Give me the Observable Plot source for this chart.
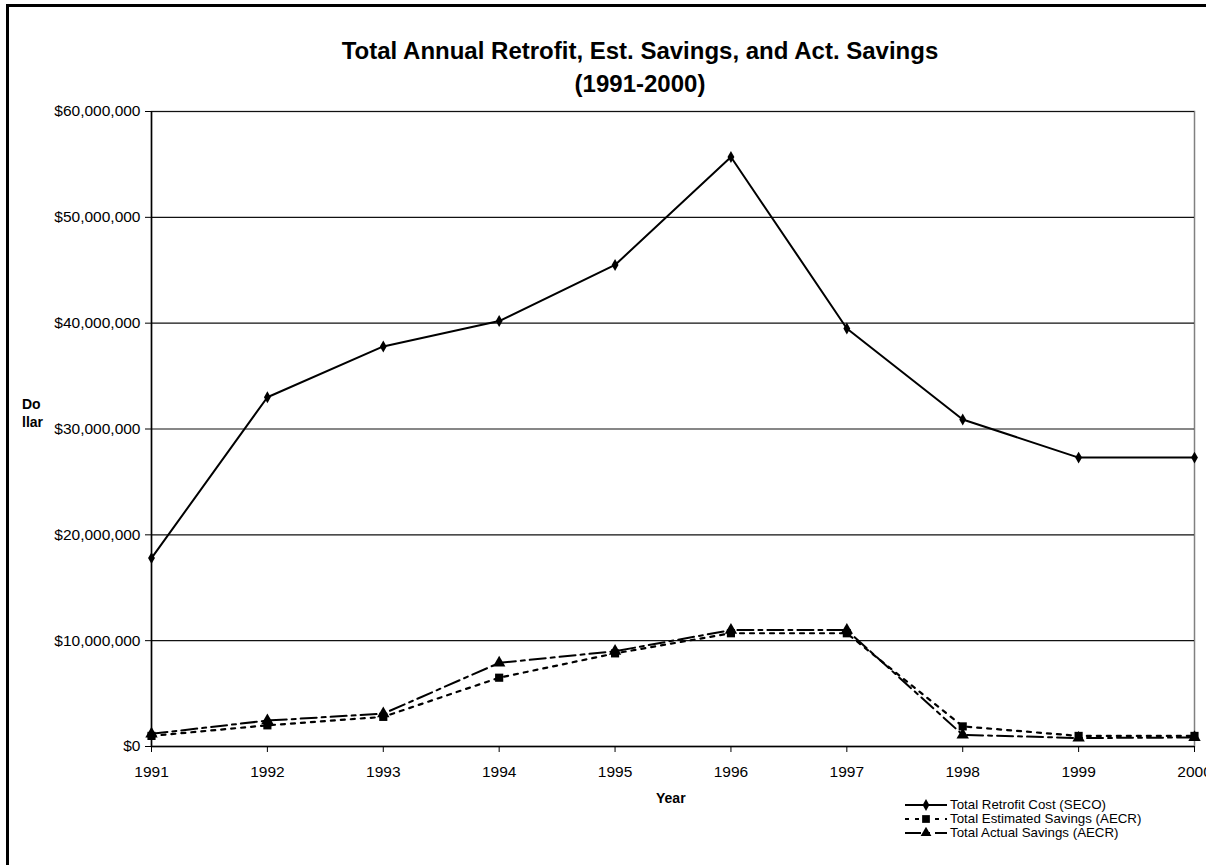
<!DOCTYPE html>
<html>
<head>
<meta charset="utf-8">
<script src="https://cdn.jsdelivr.net/npm/d3@7"></script>
<script src="https://cdn.jsdelivr.net/npm/@observablehq/plot@0.6"></script>
<style>
  html, body { margin: 0; padding: 0; background: #fff; }
  #page { position: relative; width: 1206px; height: 865px; overflow: hidden; font-family: "Liberation Sans", Arial, sans-serif; color: #000; }
  #frame { position: absolute; left: 6px; top: 4px; width: 1210px; height: 870px; border-left: 3px solid #000; border-top: 3px solid #000; box-sizing: border-box; }
  #chart { position: absolute; left: 0; top: 0; }
  .title { position: absolute; left: 0; width: 1280px; text-align: center; font-weight: bold; font-size: 24px; white-space: nowrap; }
  .lbl { position: absolute; font-weight: bold; font-size: 14px; white-space: nowrap; }
  #legend { position: absolute; left: 904px; top: 798px; font-size: 13.3px; line-height: 14px; }
  #legend .row { display: flex; align-items: center; height: 14px; white-space: nowrap; }
  #legend svg { margin-right: 2px; }
</style>
</head>
<body>
<div id="page">
  <div id="chart"></div>
  <div id="frame"></div>
  <div class="title" style="top:37px;">Total Annual Retrofit, Est. Savings, and Act. Savings</div>
  <div class="title" style="top:70px;">(1991-2000)</div>
  <div class="lbl" style="left:22px; top:396px;">Do</div>
  <div class="lbl" style="left:22px; top:414px;">llar</div>
  <div class="lbl" style="left:656px; top:790px;">Year</div>
  <div id="legend"></div>
</div>
<script>
// ---- data ----
const years = [1991, 1992, 1993, 1994, 1995, 1996, 1997, 1998, 1999, 2000];
const retrofitCost = [17800000, 33000000, 37800000, 40200000, 45500000, 55700000, 39500000, 30900000, 27300000, 27300000];
const estimatedSavings = [1000000, 2000000, 2800000, 6500000, 8800000, 10700000, 10700000, 1900000, 1000000, 1000000];
const actualSavings = [1200000, 2450000, 3100000, 7900000, 9000000, 11000000, 11000000, 1100000, 800000, 850000];
const seriesNames = ["Total Retrofit Cost (SECO)", "Total Estimated Savings (AECR)", "Total Actual Savings (AECR)"];
const yTicks = [0, 10000000, 20000000, 30000000, 40000000, 50000000, 60000000];

// ---- tables ----
const rowsCost = years.map((y, i) => ({year: y, value: retrofitCost[i]}));
const rowsEst = years.map((y, i) => ({year: y, value: estimatedSavings[i]}));
const rowsAct = years.map((y, i) => ({year: y, value: actualSavings[i]}));

const styles = [
  {dash: null, symbol: "diamond", r: 3.6, width: 2},
  {dash: "4,6", symbol: "square", r: 4.6, width: 2.2},
  {dash: "16,5,4,5", symbol: "triangle", r: 4.6, width: 2}
];

const fmt = d => "$" + d3.format(",")(d);

const chart = Plot.plot({
  width: 1206,
  height: 865,
  marginLeft: 151,
  marginRight: 12,
  marginTop: 111,
  marginBottom: 119,
  style: {fontFamily: "Liberation Sans, Arial, sans-serif", fontSize: "15.5px", color: "#000", background: "transparent"},
  x: {domain: [1991, 2000], ticks: years, tickFormat: d => String(d), label: null},
  y: {domain: [0, 60000000], ticks: yTicks, tickFormat: fmt, label: null},
  marks: [
    Plot.frame({stroke: "#808080", strokeWidth: 1.5}),
    Plot.gridY(yTicks, {stroke: "#111", strokeOpacity: 1, strokeWidth: 1.2}),
    Plot.axisY(yTicks, {tickSize: 6, tickPadding: 5, tickFormat: fmt, fontSize: 15.5, stroke: "#000"}),
    Plot.axisX(years, {tickSize: 6, tickPadding: 13, tickFormat: d => String(d), fontSize: 15.5, stroke: "#000"}),
    Plot.ruleY([0], {stroke: "#000", strokeWidth: 1.5}),
    Plot.ruleX([1991], {stroke: "#000", strokeWidth: 1.5}),
    Plot.line(rowsCost, {x: "year", y: "value", stroke: "#000", strokeWidth: styles[0].width}),
    Plot.dot(rowsCost, {x: "year", y: "value", symbol: styles[0].symbol, r: styles[0].r, fill: "#000", stroke: "none"}),
    Plot.line(rowsAct, {x: "year", y: "value", stroke: "#000", strokeWidth: styles[2].width, strokeDasharray: styles[2].dash}),
    Plot.line(rowsEst, {x: "year", y: "value", stroke: "#000", strokeWidth: styles[1].width, strokeDasharray: styles[1].dash}),
    Plot.dot(rowsEst, {x: "year", y: "value", symbol: styles[1].symbol, r: styles[1].r, fill: "#000", stroke: "none"}),
    Plot.dot(rowsAct, {x: "year", y: "value", symbol: styles[2].symbol, r: styles[2].r, fill: "#000", stroke: "none"})
  ]
});
document.getElementById("chart").appendChild(chart);

// ---- legend ----
const legend = d3.select("#legend");
const symbolPaths = {
  diamond: d3.symbol(d3.symbolDiamond, 40)(),
  square: d3.symbol(d3.symbolSquare, 60)(),
  triangle: d3.symbol(d3.symbolTriangle, 50)()
};
seriesNames.forEach((name, i) => {
  const row = legend.append("div").attr("class", "row");
  const svg = row.append("svg").attr("width", 44).attr("height", 12);
  svg.append("line").attr("x1", 1).attr("x2", 43).attr("y1", 6).attr("y2", 6)
    .attr("stroke", "#000").attr("stroke-width", 2)
    .attr("stroke-dasharray", styles[i].dash);
  svg.append("path").attr("d", symbolPaths[styles[i].symbol]).attr("transform", "translate(22,6)").attr("fill", "#000");
  row.append("span").text(name);
});
</script>
</body>
</html>
